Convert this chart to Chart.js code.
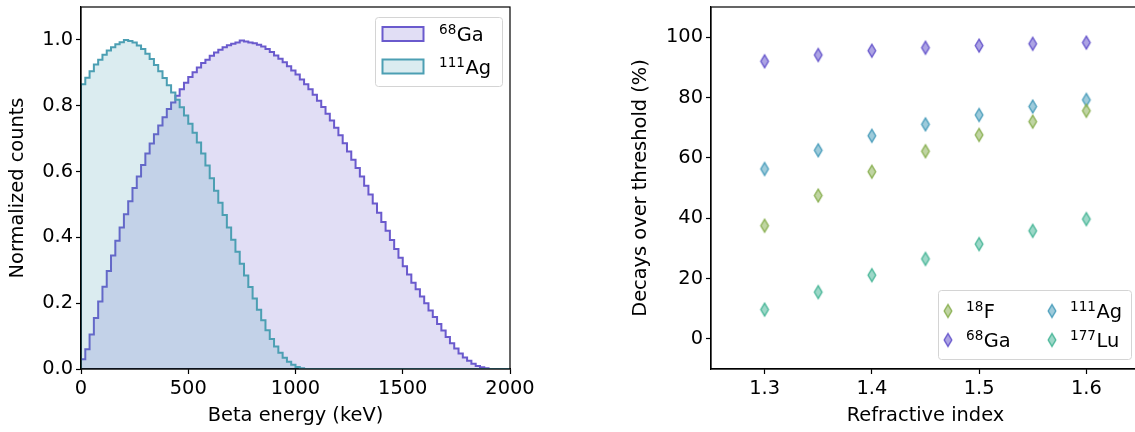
<!DOCTYPE html>
<html lang="en">
<head>
  <meta charset="UTF-8">
  <title>Beta spectra and decays over Cherenkov threshold</title>
  <script src="https://cdn.jsdelivr.net/npm/chart.js"></script>
  <style>
    html, body {
      margin: 0;
      padding: 0;
      background: #fff;
      overflow: hidden;
    }
    #wrap {
      position: relative;
      width: 1135px;
      height: 432px;
      overflow: hidden;
    }
    .panel {
      position: absolute;
      top: 0;
      height: 432px;
    }
    #left { left: 0; width: 600px; }
    #right { left: 620px; width: 520px; }
    canvas { display: block; }
  </style>
</head>
<body>
<div id="wrap">
  <div class="panel" id="left"><canvas id="spectrumChart" width="600" height="432" style="width:600px;height:432px"></canvas></div>
  <div class="panel" id="right"><canvas id="thresholdChart" width="520" height="432" style="width:520px;height:432px"></canvas></div>
</div>

<script>
  // ---- left panel: normalized beta spectra, 20 keV bins starting at 0 keV ----
  const binWidth = 20;
  const energyTicks = [0, 500, 1000, 1500, 2000];
  const countTicks = [0, 0.2, 0.4, 0.6, 0.8, 1.0];
  const spectrumIsotopes = ['68Ga', '111Ag'];

  const gaCounts = [
    0.03, 0.06, 0.105, 0.155, 0.205, 0.25, 0.298, 0.345, 0.39, 0.43,
    0.47, 0.51, 0.55, 0.585, 0.62, 0.655, 0.685, 0.713, 0.74, 0.765,
    0.79, 0.81, 0.83, 0.85, 0.87, 0.887, 0.902, 0.916, 0.93, 0.94,
    0.952, 0.962, 0.97, 0.978, 0.984, 0.988, 0.992, 0.998, 0.995, 0.992,
    0.99, 0.985, 0.98, 0.972, 0.963, 0.953, 0.943, 0.932, 0.92, 0.907,
    0.895, 0.88, 0.865, 0.85, 0.833, 0.815, 0.796, 0.776, 0.755, 0.733,
    0.71, 0.686, 0.661, 0.636, 0.611, 0.585, 0.557, 0.53, 0.503, 0.475,
    0.447, 0.42, 0.392, 0.365, 0.338, 0.312, 0.287, 0.262, 0.242, 0.22,
    0.2, 0.178, 0.158, 0.137, 0.117, 0.097, 0.078, 0.062, 0.047, 0.035,
    0.025, 0.016, 0.009, 0.005, 0.002
  ];

  const agCounts = [
    0.865, 0.885, 0.905, 0.925, 0.94, 0.955, 0.968, 0.978, 0.987, 0.993,
    1.0, 0.997, 0.992, 0.983, 0.972, 0.958, 0.942, 0.924, 0.905, 0.884,
    0.862, 0.84, 0.818, 0.795, 0.77, 0.745, 0.718, 0.688, 0.655, 0.618,
    0.58, 0.542, 0.505, 0.468, 0.43, 0.393, 0.356, 0.32, 0.284, 0.249,
    0.214, 0.18, 0.148, 0.118, 0.091, 0.068, 0.049, 0.034, 0.022, 0.013,
    0.006, 0.002
  ];

  // ---- right panel: decays over threshold vs refractive index ----
  const refractiveIndex = [1.30, 1.35, 1.40, 1.45, 1.50, 1.55, 1.60];
  const f18 = [37.5, 47.5, 55.4, 62.2, 67.6, 72.0, 75.6];
  const ga68 = [92.0, 94.1, 95.5, 96.5, 97.2, 97.8, 98.2];
  const ag111 = [56.3, 62.5, 67.3, 71.1, 74.2, 77.0, 79.2];
  const lu177 = [9.7, 15.5, 21.1, 26.5, 31.4, 35.8, 39.7];
  const indexTicks = [1.3, 1.4, 1.5, 1.6];
  const percentTicks = [0, 20, 40, 60, 80, 100];
  const thresholdIsotopes = ['18F', '68Ga', '111Ag', '177Lu'];

  const FONT = 'DejaVu Sans';
  const FS = 19.4;

  // step outline closed down to zero, like a stepfilled histogram
  function histogramPoints(counts) {
    const pts = [{ x: 0, y: 0 }];
    counts.forEach((c, i) => pts.push({ x: i * binWidth, y: c }));
    pts.push({ x: counts.length * binWidth, y: 0 });
    pts.push({ x: energyTicks[energyTicks.length - 1], y: 0 });
    return pts;
  }

  // matplotlib-like thin diamond marker
  function diamond(edge, fill) {
    const c = document.createElement('canvas');
    c.width = 12; c.height = 17;
    const g = c.getContext('2d');
    const cx = 6, cy = 8.5, hw = 3.8, hh = 6.4;
    g.beginPath();
    g.moveTo(cx, cy - hh);
    g.lineTo(cx + hw, cy);
    g.lineTo(cx, cy + hh);
    g.lineTo(cx - hw, cy);
    g.closePath();
    g.fillStyle = fill;
    g.fill();
    g.strokeStyle = edge;
    g.lineWidth = 1.4;
    g.stroke();
    return c;
  }

  // full box of spines drawn over the data
  const frame = {
    id: 'frame',
    afterDatasetsDraw(chart) {
      const { ctx, chartArea: a } = chart;
      ctx.save();
      ctx.strokeStyle = '#000';
      ctx.lineWidth = 1.2;
      ctx.strokeRect(a.left, a.top, a.right - a.left, a.bottom - a.top);
      ctx.restore();
    }
  };

  // legend with superscript mass numbers
  const isoLegend = {
    id: 'isoLegend',
    afterDraw(chart, args, o) {
      const { ctx, chartArea: a } = chart;
      const x0 = a.right - o.right - o.width;
      const y0 = o.top != null ? a.top + o.top : a.bottom - o.bottom - o.height;
      ctx.save();
      ctx.beginPath();
      ctx.roundRect(x0 + 0.5, y0 + 0.5, o.width, o.height, 3);
      ctx.fillStyle = 'rgba(255,255,255,0.8)';
      ctx.fill();
      ctx.strokeStyle = '#d4d4d4';
      ctx.lineWidth = 1;
      ctx.stroke();

      o.labels.forEach((label, i) => {
        const col = Math.floor(i / o.rows), row = i % o.rows;
        const cy = y0 + o.firstRow + row * o.rowGap;
        const hx = x0 + o.handleX + col * o.colGap;
        const ds = chart.data.datasets[i];
        if (o.kind === 'patch') {
          ctx.fillStyle = '#fff';
          ctx.fillRect(hx - 20.5, cy - 7, 41, 14);
          ctx.fillStyle = ds.backgroundColor;
          ctx.fillRect(hx - 20.5, cy - 7, 41, 14);
          ctx.strokeStyle = ds.borderColor;
          ctx.lineWidth = 2;
          ctx.strokeRect(hx - 20.5, cy - 7, 41, 14);
        } else {
          const img = ds.pointStyle;
          ctx.drawImage(img, hx - img.width / 2, cy - img.height / 2);
        }
        const m = label.match(/^(\d+)(\D+)$/);
        const tx = x0 + o.textX + col * o.colGap;
        const base = cy + 0.365 * FS;
        ctx.fillStyle = '#000';
        ctx.textAlign = 'left';
        ctx.textBaseline = 'alphabetic';
        ctx.font = (FS * 0.7) + 'px "' + FONT + '"';
        ctx.fillText(m[1], tx, base - 0.34 * FS);
        const w = ctx.measureText(m[1]).width;
        ctx.font = FS + 'px "' + FONT + '"';
        ctx.fillText(m[2], tx + w + 0.5, base);
      });
      ctx.restore();
    }
  };

  function axisStyle(tickValues, fixSize, titleText, titlePad, fmt) {
    return {
      type: 'linear',
      afterBuildTicks: s => { s.ticks = tickValues.map(v => ({ value: v })); },
      afterFit: fixSize,
      grid: { display: true, drawOnChartArea: false, drawTicks: true, tickLength: 5, tickWidth: 1.2, tickColor: '#000' },
      border: { display: true, color: '#000', width: 1.2 },
      ticks: { color: '#000', font: { family: FONT, size: FS }, padding: 3, autoSkip: false, maxRotation: 0, callback: fmt },
      title: { display: true, text: titleText, color: '#000', font: { family: FONT, size: FS }, padding: titlePad }
    };
  }

  // ---- left chart ----
  const gaEdge = '#6a5acd', agEdge = '#4c9fb3';
  new Chart(document.getElementById('spectrumChart'), {
    type: 'line',
    data: {
      datasets: [
        {
          label: spectrumIsotopes[0],
          data: histogramPoints(gaCounts),
          borderColor: gaEdge,
          backgroundColor: 'rgba(106,90,205,0.2)',
          borderWidth: 2,
          fill: 'origin',
          stepped: true,
          pointRadius: 0,
          order: 2
        },
        {
          label: spectrumIsotopes[1],
          data: histogramPoints(agCounts),
          borderColor: agEdge,
          backgroundColor: 'rgba(76,159,179,0.2)',
          borderWidth: 2,
          fill: 'origin',
          stepped: true,
          pointRadius: 0,
          order: 1
        }
      ]
    },
    options: {
      responsive: false,
      animation: false,
      devicePixelRatio: 1,
      layout: { autoPadding: false, padding: { left: 0, top: 7, right: 90, bottom: 0 } },
      scales: {
        x: Object.assign(axisStyle(energyTicks, s => { s.height = 63; s.paddingLeft = 0; s.paddingRight = 0; },
          'Beta energy (keV)', { top: 0, bottom: 4 }, v => String(v)), { min: 0, max: 2000 }),
        y: Object.assign(axisStyle(countTicks, s => { s.width = 81; s.paddingTop = 0; s.paddingBottom = 0; },
          'Normalized counts', { top: 6.5, bottom: 0 }, v => v.toFixed(1)), { min: 0, max: 1.1 })
      },
      plugins: {
        legend: { display: false },
        tooltip: { enabled: false },
        isoLegend: {
          kind: 'patch', labels: spectrumIsotopes, rows: 2,
          width: 127, height: 69, top: 10, right: 8,
          firstRow: 17, rowGap: 32.5, handleX: 28, textX: 64, colGap: 0
        }
      }
    },
    plugins: [frame, isoLegend]
  });

  // ---- right chart ----
  const seriesColors = [
    ['#8db257', 'rgba(141,178,87,0.55)'],
    ['#6a5acd', 'rgba(106,90,205,0.55)'],
    ['#4fa0bd', 'rgba(79,160,189,0.55)'],
    ['#4db89a', 'rgba(77,184,154,0.55)']
  ];
  const seriesValues = [f18, ga68, ag111, lu177];

  new Chart(document.getElementById('thresholdChart'), {
    type: 'scatter',
    data: {
      datasets: seriesValues.map((vals, k) => ({
        label: thresholdIsotopes[k],
        data: refractiveIndex.map((n, i) => ({ x: n, y: vals[i] })),
        pointStyle: diamond(seriesColors[k][0], seriesColors[k][1]),
        pointRadius: 6
      }))
    },
    options: {
      responsive: false,
      animation: false,
      devicePixelRatio: 1,
      layout: { autoPadding: false, padding: { left: 0, top: 7, right: 0, bottom: 0 } },
      scales: {
        x: Object.assign(axisStyle(indexTicks, s => { s.height = 63; s.paddingLeft = 0; s.paddingRight = 0; },
          'Refractive index', { top: 0, bottom: 4 }, v => v.toFixed(1)), { min: 1.25, max: 1.65 }),
        y: Object.assign(axisStyle(percentTicks, s => { s.width = 91; s.paddingTop = 0; s.paddingBottom = 0; },
          'Decays over threshold (%)', { top: 9.5, bottom: 0 }, v => String(v)), { min: -10, max: 110 })
      },
      plugins: {
        legend: { display: false },
        tooltip: { enabled: false },
        isoLegend: {
          kind: 'marker', labels: thresholdIsotopes, rows: 2,
          width: 193, height: 69, bottom: 10, right: 9,
          firstRow: 21, rowGap: 29, handleX: 10, textX: 28, colGap: 104
        }
      }
    },
    plugins: [frame, isoLegend]
  });
</script>
</body>
</html>
